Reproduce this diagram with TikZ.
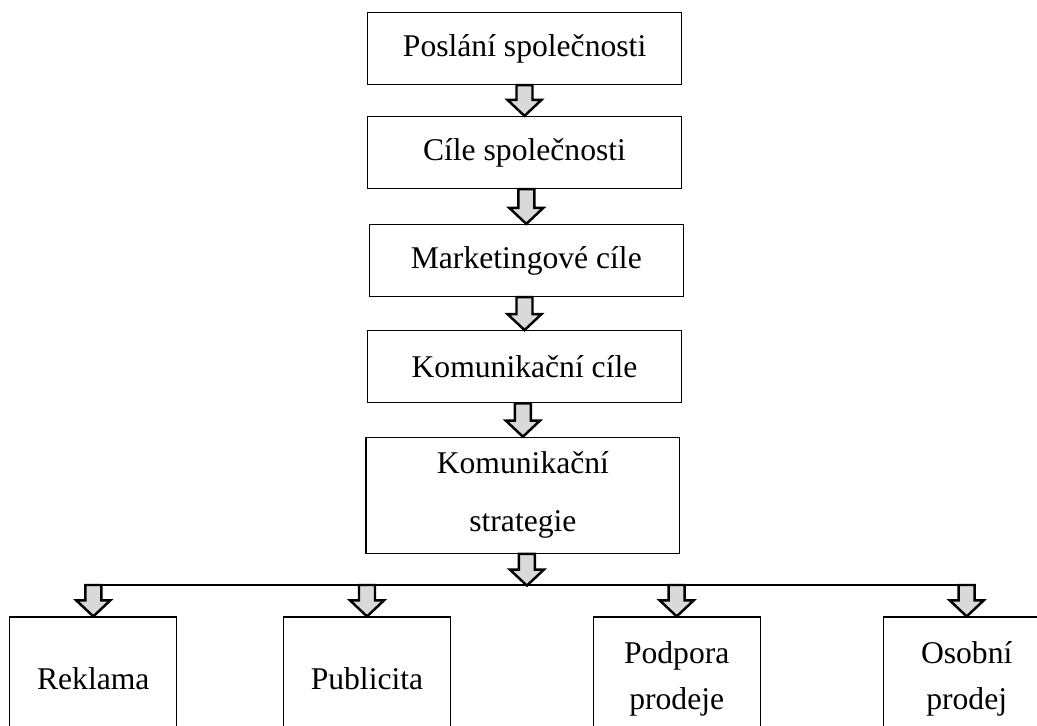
\documentclass[tikz,border=0pt]{standalone}
\usepackage{fontspec}
\setmainfont{Liberation Serif}
\usepackage{tikz}
\usetikzlibrary{calc, positioning}
\definecolor{arrgray}{HTML}{D9D9D9}

% block arrow from the lower edge of #1 down to #2
\newcommand{\blockarrow}[2]{%
  \path (#1 -| #2) coordinate (ba-s) (#2) coordinate (ba-t);
  \draw[blockarr] ($(ba-s)+(-8,0)$) -- ($(ba-s)+(8,0)$) -- ($(ba-t)+(8,-16)$)
    -- ($(ba-t)+(17,-16)$) -- (ba-t) -- ($(ba-t)+(-17,-16)$)
    -- ($(ba-t)+(-8,-16)$) -- cycle;
}

\begin{document}
\begin{tikzpicture}[x=0.02cm, y=-0.02cm]
\tikzstyle{box} = [rectangle, draw, line width=0.7pt, minimum width=6.28cm, minimum height=1.44cm, align=center, font=\fontsize{18}{26}\selectfont]
\tikzstyle{lowbox} = [box, minimum width=3.34cm, minimum height=2.48cm]
\tikzstyle{blockarr} = [draw=black, fill=arrgray, line width=1.4pt, line join=miter]
\useasboundingbox (0,0) rectangle (1037,726);
\clip (0,0) rectangle (1037,726);
\node[box] (mission) at (524.6, 48.6) {Poslání společnosti};
\node[box] (goals) at (524.5, 152.5) {Cíle společnosti};
\node[box] (mgoals) at (526.3, 260.5) {Marketingové cíle};
\node[box] (cgoals) at (524.5, 366.7) {Komunikační cíle};
\node[box, minimum height=2.32cm, font=\fontsize{18}{33}\selectfont] (strategy) at (522.9, 495.3) {Komunikační\\strategie};
\node[lowbox] (ads) at (93.3, 679) {Reklama};
\node[lowbox] (pub) at (367, 679) {Publicita};
\node[lowbox] (promo) at (676.7, 679) {Podpora\\prodeje};
\node[lowbox] (sales) at (966.7, 679) {Osobní\\prodej};
\coordinate (busl) at (86, 585);
\coordinate (busr) at (975, 585);
\draw[line width=0.7pt] (busl) -- (busr);
\blockarrow{mission.south}{goals.north}
\blockarrow{goals.south}{mgoals.north}
\blockarrow{mgoals.south}{cgoals.north}
\blockarrow{cgoals.south}{strategy.north}
\path (strategy.south) ++(4,31.7) coordinate (busc);
\blockarrow{strategy.south}{busc}
\foreach \b in {ads, pub, promo, sales} {
    \blockarrow{busl}{\b.north}
}
\end{tikzpicture}
\end{document}
